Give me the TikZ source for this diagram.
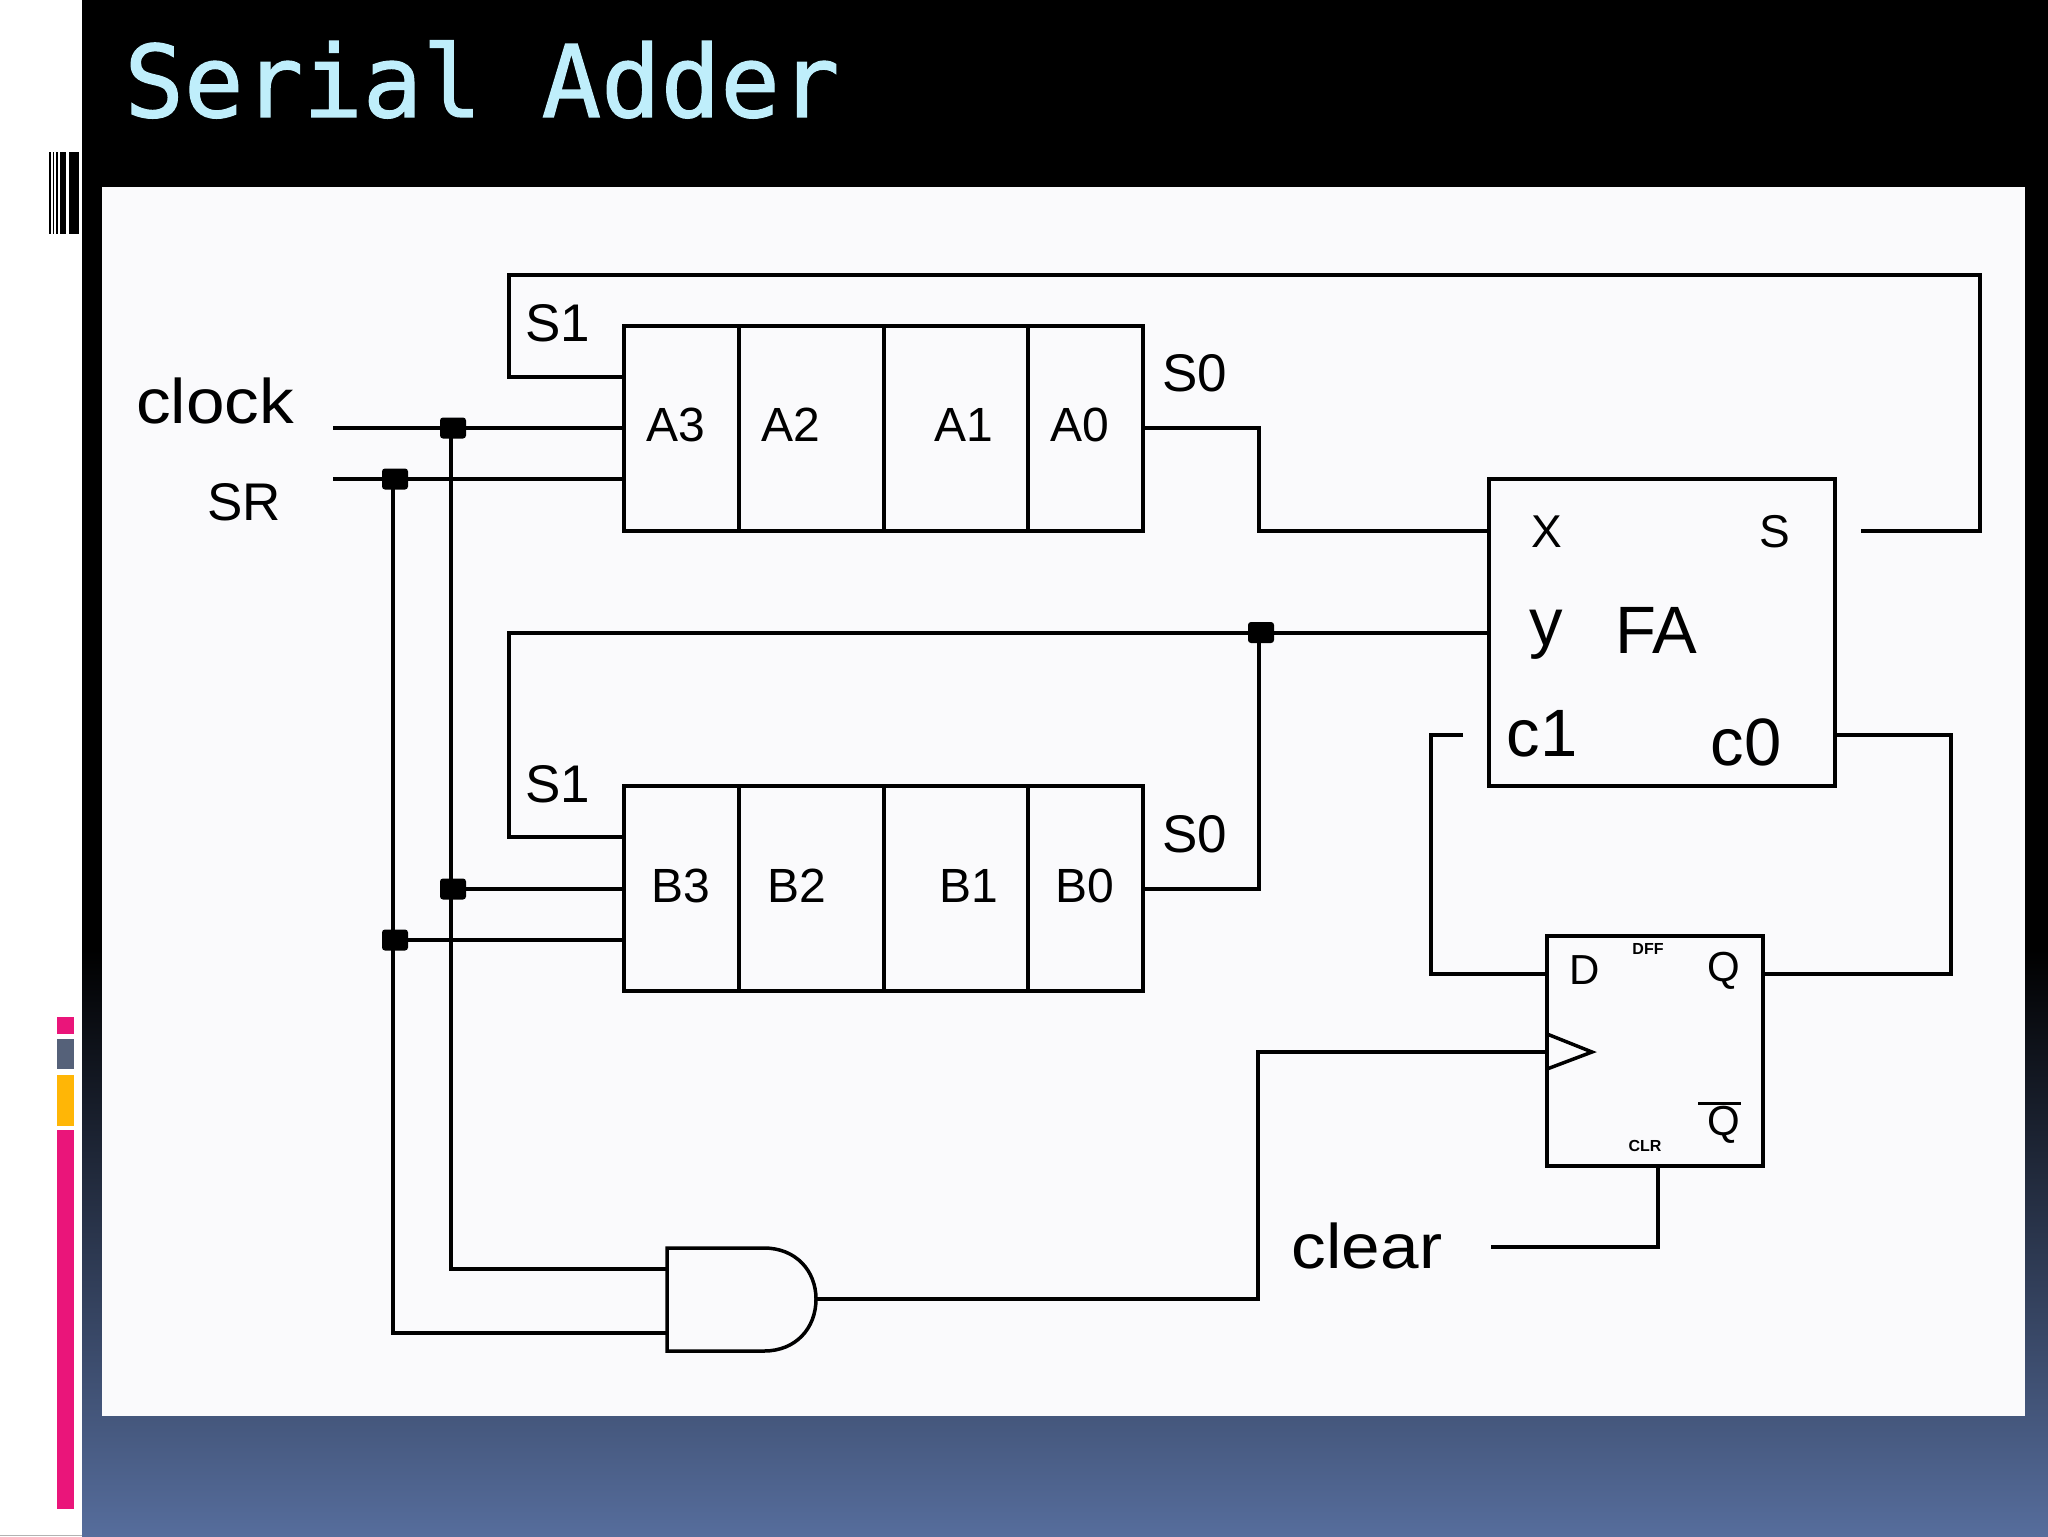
\documentclass[tikz,border=0pt]{standalone}
\usepackage{fontspec}
\setmainfont{Liberation Sans}
\newfontfamily\titlefont[FakeStretch=0.99,FakeBold=1.2]{DejaVu Sans Mono}
\newfontfamily\widefont[FakeStretch=1.1]{Liberation Sans}
\definecolor{panel}{HTML}{FAFAFC}
\definecolor{titleblue}{HTML}{BFEEFB}
\definecolor{bgblue}{HTML}{566D9C}
\definecolor{pinkbar}{HTML}{EA157A}
\definecolor{greybar}{HTML}{556179}
\definecolor{amberbar}{HTML}{FFB606}
\tikzset{
  x=0.5pt,y=-0.5pt,
  wire/.style={line width=2pt,line join=miter,line cap=butt,draw=black},
  cell/.style={draw=black,line width=2pt,inner sep=0pt,outer sep=0pt,rectangle},
  dotjoin/.style={fill=black,inner sep=0pt,outer sep=0pt,rectangle,rounded corners=1.5pt,minimum width=13pt,minimum height=10.5pt},
  lab/.style={inner sep=0pt,outer sep=0pt,text=black},
  labS/.style={lab,font=\fontsize{26.5}{26.5}\selectfont},
  labW/.style={lab,font=\widefont\fontsize{31.5}{31.5}\selectfont},
  labR/.style={lab,font=\fontsize{24}{24}\selectfont},
  labF/.style={lab,font=\fontsize{33.5}{33.5}\selectfont},
  labP/.style={lab,font=\fontsize{23}{23}\selectfont},
  labQ/.style={lab,font=\fontsize{21}{21}\selectfont},
  labT/.style={lab,font=\bfseries\fontsize{8}{8}\selectfont},
}
\begin{document}
\begin{tikzpicture}
\useasboundingbox (0,0) rectangle (2048,1536);
% background
\fill[white] (0,0) rectangle (2048,1536);
\fill[black!30] (0,1534.5) rectangle (82,1536);
\fill[black] (82,0) rectangle (2048,950);
\shade[top color=black,bottom color=bgblue] (82,950) rectangle (2048,1536);
\fill[panel] (102,187) rectangle (2025,1416);
% barcode
\fill[black] (49,152) rectangle (51,234);
\fill[black] (53,152) rectangle (54,234);
\fill[black] (56,152) rectangle (57.5,234);
\fill[black] (59.5,152) rectangle (66,234);
\fill[black] (69,152) rectangle (79,234);
% side bars
\fill[pinkbar] (57,1016.5) rectangle (74,1034);
\fill[greybar] (57,1038.5) rectangle (74,1069);
\fill[amberbar] (57,1074.5) rectangle (74,1125.5);
\fill[pinkbar] (57,1130) rectangle (74,1509);
% title
\node[anchor=base west,inner sep=0pt,text=titleblue,font=\titlefont\fontsize{50}{50}\selectfont] (title) at (124,117) {Serial Adder};
% register A
\node[cell,minimum width=57.5pt,minimum height=102.35pt] (A3) at (681.5,428.35) {};
\node[cell,minimum width=72.5pt,minimum height=102.35pt] (A2) at (811.5,428.35) {};
\node[cell,minimum width=72pt,minimum height=102.35pt] (A1) at (956,428.35) {};
\node[cell,minimum width=57.5pt,minimum height=102.35pt] (A0) at (1085.5,428.35) {};
% register B
\node[cell,minimum width=57.5pt,minimum height=102.5pt] (B3) at (681.5,888.5) {};
\node[cell,minimum width=72.5pt,minimum height=102.5pt] (B2) at (811.5,888.5) {};
\node[cell,minimum width=72pt,minimum height=102.5pt] (B1) at (956,888.5) {};
\node[cell,minimum width=57.5pt,minimum height=102.5pt] (B0) at (1085.5,888.5) {};
% FA, FF
\node[cell,minimum width=173pt,minimum height=153.5pt] (FA) at (1662,632.5) {};
\node[cell,minimum width=108pt,minimum height=115pt] (FF) at (1655,1051) {};
% AND gate
\coordinate (andTL) at (667,1248);
\coordinate (andBL) at (667,1351);
\coordinate (andIn1) at (667,1269);
\coordinate (andIn2) at (667,1333);
\coordinate (andOut) at (816,1299);
\draw[wire,line width=1.75pt] (andTL) -- (764,1248) .. controls (796,1248) and (816,1271) .. (andOut) .. controls (816,1328) and (796,1351) .. (764,1351) -- (andBL) -- cycle;
% free ends and routing points
\coordinate (clockIn) at (333,428);
\coordinate (srIn) at (333,479);
\coordinate (clkV) at (451,428);
\coordinate (srV) at (393,479);
\coordinate (sEnd) at (1861,530.5);
\coordinate (sCorner) at (1980,274.5);
\coordinate (s1A) at (508.5,377);
\coordinate (yLeft) at (508.5,632.5);
\coordinate (s1B) at (508.5,837);
\coordinate (c1End) at (1463,735);
\coordinate (ffD) at (1431,974);
\coordinate (c0R) at (1951,735);
\coordinate (clearEnd) at (1491,1247);
\coordinate (clearV) at (1657.5,1247);
\coordinate (ffClk) at (1547,1052);
\coordinate (andRoute) at (1258,1299);
% junctions
\node[dotjoin] (jClkA) at (453,428) {};
\node[dotjoin] (jSrA) at (395,479) {};
\node[dotjoin] (jClkB) at (453,889) {};
\node[dotjoin] (jSrB) at (395,940) {};
\node[dotjoin] (jY) at (1261,632.5) {};
% connectors
\draw[wire] (clockIn) -- (clockIn -| A3.west);
\draw[wire] (srIn) -- (srIn -| A3.west);
\draw[wire] (clkV) -- (clkV |- andIn1) -- (andIn1);
\draw[wire] (srV) -- (srV |- andIn2) -- (andIn2);
\draw[wire] (jClkB) -- (jClkB -| B3.west);
\draw[wire] (jSrB) -- (jSrB -| B3.west);
\draw[wire] (A0.east |- clockIn) -- (1259,428) -- (1259,530.5) -- (FA.west |- sEnd);
\draw[wire] (sEnd) -- (sEnd -| sCorner) -- (sCorner) -- (sCorner -| s1A) -- (s1A) -- (s1A -| A3.west);
\draw[wire] (FA.west |- jY) -- (jY) -- (yLeft) -- (s1B) -- (s1B -| B3.west);
\draw[wire] (B0.east |- jClkB) -- (1259,889) -- (1259,632.5);
\draw[wire] (c1End) -- (ffD |- c1End) -- (ffD) -- (ffD -| FF.west);
\draw[wire] (FA.east |- c0R) -- (c0R) -- (c0R |- ffD) -- (FF.east |- ffD);
\draw[wire] (andOut) -- (andRoute) -- (1258,1052) -- (ffClk);
\draw[wire] (clearEnd) -- (clearV) -- (clearV |- FF.south);
% clock triangle
\draw[line width=1.75pt] (1547,1034) -- (1592,1052) -- (1547,1069);
% labels
\node[labS] (ls1a) at (558,323) {S1};
\node[labS] (ls1b) at (558,784) {S1};
\node[labS] (ls0a) at (1195,373) {S0};
\node[labS] (ls0b) at (1195,834) {S0};
\node[labW] (lclock) at (215,401) {clock};
\node[labS] (lsr) at (244,502) {SR};
\node[labR] (la3) at (676,425) {A3};
\node[labR] (la2) at (791,425) {A2};
\node[labR] (la1) at (964,425) {A1};
\node[labR] (la0) at (1080,425) {A0};
\node[labR] (lb3) at (681,886) {B3};
\node[labR] (lb2) at (797,886) {B2};
\node[labR] (lb1) at (969,886) {B1};
\node[labR] (lb0) at (1085,886) {B0};
\node[labP] (lx) at (1547,532) {X};
\node[labP] (ls) at (1775,532) {S};
\node[labF] (ly) at (1546,635) {y};
\node[labF] (lfa) at (1656,630) {FA};
\node[labF] (lc1) at (1542,734) {c1};
\node[labF] (lc0) at (1746,742) {c0};
\node[labW] (lclear) at (1367,1246) {clear};
\node[labQ] (ld) at (1585,970) {D};
\node[labQ] (lq) at (1724,971) {Q};
\node[labQ] (lqb) at (1724,1125) {Q};
\draw[line width=1.5pt] (1698,1103) -- (1741,1103);
\node[labT] (ldff) at (1648,949) {DFF};
\node[labT] (lclr) at (1645,1146) {CLR};
\end{tikzpicture}
\end{document}
